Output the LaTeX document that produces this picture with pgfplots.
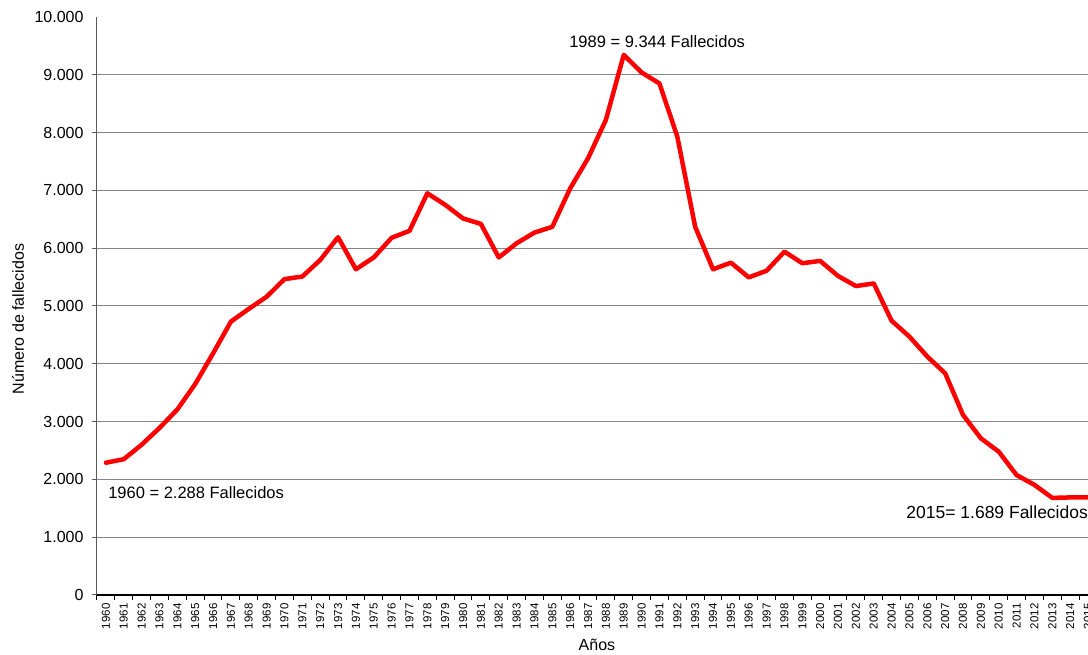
\documentclass[border=0pt]{standalone}
\usepackage{fontspec}
\setmainfont{Liberation Sans}
\usepackage{pgfplots}
\pgfplotsset{compat=1.18}
\definecolor{gridgray}{RGB}{134,134,134}
\definecolor{axgray}{RGB}{90,90,90}
\definecolor{xred}{RGB}{255,0,0}
\pgfplotstableread{
year val
1960 2288
1961 2350
1962 2600
1963 2890
1964 3210
1965 3650
1966 4180
1967 4730
1968 4950
1969 5160
1970 5465
1971 5510
1972 5795
1973 6190
1974 5635
1975 5840
1976 6180
1977 6300
1978 6950
1979 6750
1980 6515
1981 6420
1982 5840
1983 6085
1984 6270
1985 6370
1986 7035
1987 7555
1988 8220
1989 9344
1990 9040
1991 8850
1992 7930
1993 6370
1994 5635
1995 5750
1996 5495
1997 5610
1998 5940
1999 5740
2000 5780
2001 5520
2002 5345
2003 5390
2004 4745
2005 4470
2006 4125
2007 3835
2008 3115
2009 2710
2010 2480
2011 2075
2012 1905
2013 1680
2014 1688
2015 1689
}\datatable
\begin{document}
\begin{tikzpicture}
\begin{axis}[
  scale only axis,
  width=1000pt, height=578pt,
  xmin=1959.5, xmax=2015.5,
  ymin=0, ymax=10000,
  axis x line*=bottom, axis y line*=left,
  x axis line style={black, line width=1.2pt, -},
  y axis line style={axgray, line width=1pt, -},
  clip=false,
  tick align=outside,
  major tick length=5pt,
  minor tick length=5pt,
  ytick={0,1000,...,9000},
  extra y ticks={10000},
  extra y tick style={grid=none, major tick length=0pt, y tick label style={xshift=-5pt}},
  ymajorgrids,
  grid style={gridgray, line width=1pt},
  every major y tick/.style={axgray, line width=1pt},
  scaled y ticks=false,
  y tick label style={xshift=-5pt, font=\fontsize{16}{19}\selectfont, /pgf/number format/1000 sep={.}, /pgf/number format/assume math mode=true},
  xtick={1960,1961,...,2015},
  xticklabel={\pgfmathprintnumber[fixed, precision=0, 1000 sep={}, assume math mode=true]{\tick}},
  every major x tick/.style={draw=none},
  minor xtick={1959.5,1960.5,...,2015.5},
  every minor x tick/.style={black, line width=1pt},
  x tick label style={rotate=90, anchor=east, font=\fontsize{11.5}{13}\selectfont},
  xlabel={Años},
  xlabel style={at={(axis description cs:0.5,-0.0865)}, anchor=center, font=\fontsize{16}{19}\selectfont},
  ylabel={Número de fallecidos},
  ylabel style={at={(axis description cs:-0.079,0.4775)}, anchor=center, font=\fontsize{16}{19}\selectfont},
]
\addplot[xred, line width=4.5pt, line join=round, line cap=round] table[x=year, y=val] {\datatable};
\node[anchor=west, inner sep=0pt, font=\fontsize{16.5}{19}\selectfont] at (axis cs:1960.12,1780) {1960 = 2.288 Fallecidos};
\node[anchor=center, inner sep=0pt, font=\fontsize{16.5}{19}\selectfont] at (axis cs:1990.87,9567) {1989 = 9.344 Fallecidos};
\node[anchor=west, inner sep=0pt, font=\fontsize{17.5}{20}\selectfont] at (axis cs:2004.82,1436) {2015= 1.689 Fallecidos};
\end{axis}
\pgfresetboundingbox
\path ([shift={(-97pt,-60pt)}]current axis.south west) rectangle ([shift={(991pt,595pt)}]current axis.south west);
\end{tikzpicture}
\end{document}
